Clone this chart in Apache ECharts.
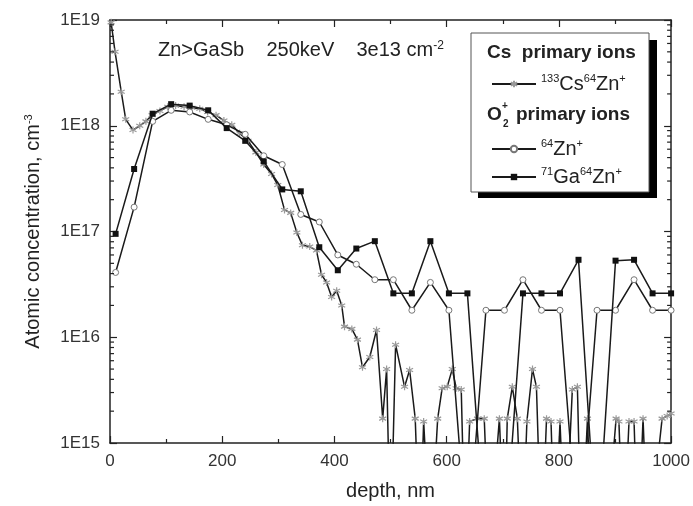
<!DOCTYPE html>
<html>
<head>
<meta charset="utf-8">
<script src="https://cdn.jsdelivr.net/npm/echarts@6/dist/echarts.min.js"></script>
<style>
  html, body { margin: 0; padding: 0; background: #fff; }
  #main { width: 693px; height: 506px; }
</style>
</head>
<body>
<div id="main"></div>
<script>
// depth, nm  /  atomic concentration, cm-3  (0 = below detection limit)
var csDepth = [2, 9, 20, 28, 41, 53, 64, 75, 89, 103, 117, 132, 146, 160, 174, 189, 203, 217, 231, 246,
    260, 274, 288, 299, 311, 322, 333, 343, 356, 368, 377, 386, 395, 404, 413, 418, 431, 441, 450, 463,
    475, 486, 493, 500, 509, 525, 534, 544, 552, 559, 571, 584, 592, 601, 610, 617, 626, 633, 641, 655,
    667, 676, 694, 703, 708, 717, 726, 735, 743, 753, 760, 769, 778, 786, 793, 802, 811, 824, 833, 840,
    851, 859, 883, 902, 907, 915, 925, 934, 941, 950, 959, 984, 993, 1000];
var csConc = [9.5e18, 5.0e18, 2.1e18, 1.15e18, 9.1e17, 1.0e18, 1.1e18, 1.26e18, 1.38e18, 1.51e18, 1.55e18, 1.51e18, 1.48e18, 1.45e18, 1.35e18, 1.26e18, 1.12e18, 1.02e18, 8.5e17, 7.2e17,
    5.6e17, 4.3e17, 3.5e17, 2.75e17, 1.6e17, 1.5e17, 9.8e16, 7.4e16, 7.2e16, 6.6e16, 3.9e16, 3.3e16, 2.4e16, 2.75e16, 2.0e16, 1.26e16, 1.2e16, 9.5e15, 5.2e15, 6.5e15,
    1.17e16, 1.7e15, 5.0e15, 0, 8.5e15, 3.4e15, 4.9e15, 1.7e15, 0, 1.6e15, 0, 1.7e15, 3.3e15, 3.4e15, 5.0e15, 3.3e15, 3.2e15, 0, 1.6e15, 1.7e15,
    1.7e15, 0, 1.7e15, 0, 1.7e15, 3.4e15, 1.7e15, 0, 1.6e15, 5.0e15, 3.4e15, 0, 1.7e15, 1.6e15, 0, 1.6e15, 0, 3.2e15, 3.4e15, 0,
    1.7e15, 0, 0, 1.7e15, 1.6e15, 0, 1.6e15, 1.6e15, 0, 1.7e15, 0, 1.7e15, 1.8e15, 1.9e15];

var o2Depth = [10, 43, 76, 109, 142, 175, 208, 241, 274, 307, 340, 373, 406, 439, 472, 505,
    538, 571, 604, 637, 670, 703, 736, 769, 802, 835, 868, 901, 934, 967, 1000];
var znConc = [4.1e16, 1.7e17, 1.1e18, 1.4e18, 1.35e18, 1.15e18, 1.02e18, 8.3e17, 5.2e17, 4.3e17, 1.45e17, 1.23e17, 6.0e16, 4.9e16, 3.5e16, 3.5e16,
    1.8e16, 3.3e16, 1.8e16, 0, 1.8e16, 1.8e16, 3.5e16, 1.8e16, 1.8e16, 0, 1.8e16, 1.8e16, 3.5e16, 1.8e16, 1.8e16];
var gaZnConc = [9.5e16, 3.9e17, 1.3e18, 1.6e18, 1.55e18, 1.4e18, 9.5e17, 7.2e17, 4.6e17, 2.5e17, 2.4e17, 7.1e16, 4.3e16, 6.9e16, 8.1e16, 2.6e16,
    2.6e16, 8.1e16, 2.6e16, 2.6e16, 0, 0, 2.6e16, 2.6e16, 2.6e16, 5.4e16, 0, 5.3e16, 5.4e16, 2.6e16, 2.6e16];

var yMajor = [1e15, 1e16, 1e17, 1e18, 1e19];
var yMinor = [];
for (var p = 15; p < 19; p++) {
    for (var m = 2; m <= 9; m++) yMinor.push(m * Math.pow(10, p));
}

var FLOOR = 1e14; // zero counts fall off the bottom of the log axis
var FONT = '"Liberation Sans", Arial, sans-serif';
var INK = '#222';
var ASTERISK = 'path://M5,0L5,10M0.7,2.5L9.3,7.5M0.7,7.5L9.3,2.5';

function pairs(depths, values) {
    return depths.map(function (d, i) {
        return [d, values[i] > 0 ? values[i] : FLOOR];
    });
}

var myChart = echarts.init(document.getElementById('main'));

var supRich = {
    sup: { fontSize: 11, lineHeight: 11, verticalAlign: 'top', fontFamily: FONT, color: INK }
};

function legendAt(name, top) {
    return {
        data: [name],
        left: 486,
        top: top,
        z: 20,
        itemWidth: 44,
        itemHeight: 8,
        selectedMode: false,
        formatter: function (n) {
            if (n == 'cs') return '{sup|133}Cs{sup|64}Zn{sup|+}';
            if (n == 'zn') return '{sup|64}Zn{sup|+}';
            return '{sup|71}Ga{sup|64}Zn{sup|+}';
        },
        textStyle: { fontSize: 20, lineHeight: 22, fontFamily: FONT, color: INK, rich: supRich }
    };
}

function xAx(pos) {
    return {
        type: 'value', position: pos, min: 0, max: 1000, interval: 200,
        axisLine: { onZero: false, lineStyle: { color: INK, width: 1.5 } },
        axisTick: { inside: true, length: 7, lineStyle: { color: INK, width: 1.2 } },
        minorTick: { show: true, splitNumber: 2, length: 4, lineStyle: { color: INK, width: 1.2 } },
        splitLine: { show: false },
        axisLabel: {
            show: pos == 'bottom', fontSize: 17, color: '#333', fontFamily: FONT, margin: 10,
            formatter: function (v) { return String(v); }
        },
        name: pos == 'bottom' ? 'depth, nm' : '',
        nameLocation: 'middle', nameGap: 38,
        nameTextStyle: { fontSize: 20, color: INK, fontFamily: FONT }
    };
}

function yAx(pos) {
    return {
        type: 'log', logBase: 10, position: pos, min: 1e15, max: 1e19,
        axisLine: { onZero: false, lineStyle: { color: INK, width: 1.5 } },
        axisTick: { inside: true, length: 7, customValues: yMajor, lineStyle: { color: INK, width: 1.2 } },
        splitLine: { show: false },
        axisLabel: {
            show: pos == 'left', fontSize: 17, color: '#333', fontFamily: FONT, margin: 10,
            customValues: yMajor,
            formatter: function (v) { return '1E' + Math.round(Math.log10(v)); }
        },
        name: pos == 'left' ? 'Atomic concentration, cm{sup|-3}' : '',
        nameLocation: 'middle', nameGap: 67,
        nameTextStyle: { fontSize: 20, color: INK, fontFamily: FONT, rich: supRich }
    };
}

// log minor ticks (2..9 x 10^n) on both frame sides, placed by the log axis
function minorTicks(params, api) {
    var y = api.coord([0, api.value(1)])[1];
    var cs = params.coordSys;
    var st = { stroke: INK, lineWidth: 1.2 };
    return {
        type: 'group',
        children: [
            { type: 'line', shape: { x1: cs.x, y1: y, x2: cs.x + 4, y2: y }, style: st },
            { type: 'line', shape: { x1: cs.x + cs.width - 4, y1: y, x2: cs.x + cs.width, y2: y }, style: st }
        ]
    };
}

var option = {
    animation: false,
    backgroundColor: '#fff',
    textStyle: { fontFamily: FONT },
    grid: { left: 110, right: 21, top: 20, bottom: 59 },
    xAxis: [xAx('bottom'), xAx('top')],
    yAxis: [yAx('left'), yAx('right')],
    legend: [legendAt('cs', 68), legendAt('zn', 133), legendAt('gazn', 161)],
    graphic: [
        { type: 'rect', shape: { x: 478, y: 40, width: 179, height: 158 }, style: { fill: '#000' }, z: 10 },
        { type: 'rect', shape: { x: 471, y: 33, width: 178, height: 159 }, style: { fill: '#fff', stroke: '#555', lineWidth: 1 }, z: 11 },
        { type: 'text', x: 487, y: 53, z: 12, style: { text: 'Cs  primary ions', font: 'bold 19px ' + FONT, fill: INK, verticalAlign: 'middle' } },
        { type: 'text', x: 487, y: 115, z: 12, style: { text: 'O', font: 'bold 19px ' + FONT, fill: INK, verticalAlign: 'middle' } },
        { type: 'text', x: 502, y: 106, z: 12, style: { text: '+', font: 'bold 10px ' + FONT, fill: INK, verticalAlign: 'middle' } },
        { type: 'text', x: 503, y: 124, z: 12, style: { text: '2', font: 'bold 10px ' + FONT, fill: INK, verticalAlign: 'middle' } },
        { type: 'text', x: 516, y: 115, z: 12, style: { text: 'primary ions', font: 'bold 19px ' + FONT, fill: INK, verticalAlign: 'middle' } },
        {
            type: 'text', x: 158, y: 50, z: 12,
            style: {
                text: 'Zn>GaSb    250keV    3e13 cm{sup|-2}',
                font: '20px ' + FONT, fill: INK, verticalAlign: 'middle',
                rich: { sup: { fontSize: 12, lineHeight: 12, verticalAlign: 'top', fill: INK, fontFamily: FONT } }
            }
        }
    ],
    series: [
        {
            name: 'cs', type: 'line', data: pairs(csDepth, csConc),
            symbol: ASTERISK, symbolSize: 7, showAllSymbol: true, clip: true, z: 3,
            lineStyle: { color: '#1a1a1a', width: 1.5 },
            itemStyle: { color: 'rgba(0,0,0,0)', borderColor: '#999', borderWidth: 1.2 }
        },
        {
            name: 'zn', type: 'line', data: pairs(o2Depth, znConc),
            symbol: 'circle', symbolSize: 6, showAllSymbol: true, clip: true, z: 4,
            lineStyle: { color: '#1a1a1a', width: 1.5 },
            itemStyle: { color: '#fff', borderColor: '#777', borderWidth: 1 }
        },
        {
            name: 'gazn', type: 'line', data: pairs(o2Depth, gaZnConc),
            symbol: 'rect', symbolSize: 6, showAllSymbol: true, clip: true, z: 5,
            lineStyle: { color: '#1a1a1a', width: 1.5 },
            itemStyle: { color: '#111', borderColor: '#111', borderWidth: 0 }
        },
        {
            name: 'yMinorTicks', type: 'custom', silent: true, clip: false, z: 6,
            data: yMinor.map(function (v) { return [0, v]; }),
            renderItem: minorTicks
        }
    ]
};

myChart.setOption(option);
</script>
</body>
</html>
